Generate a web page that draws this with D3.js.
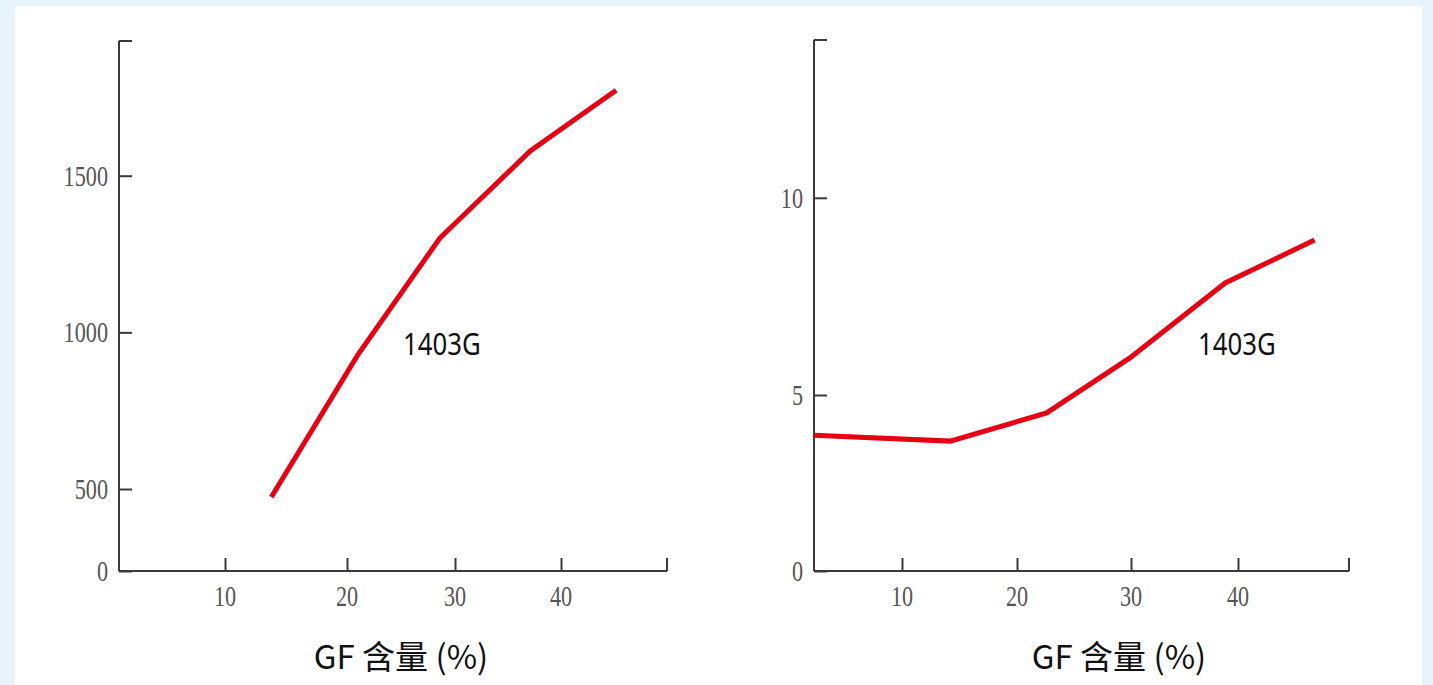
<!DOCTYPE html>
<html>
<head>
<meta charset="utf-8">
<script src="https://cdn.jsdelivr.net/npm/d3@7"></script>
<style>
  html, body { margin: 0; padding: 0; background: #e8f4fc; }
  svg { display: block; }
</style>
</head>
<body>
<svg id="chart" width="1433" height="685"></svg>
<script>
// GF content (%) ticks shared by both panels
const xTicks = [10, 20, 30, 40];
const xTitle = "GF 含量 (%)";
const seriesName = "1403G";

// Left panel: strength vs GF content
const leftGF = [13.8, 21.0, 28.6, 37.1, 45.2];
const leftValues = [451, 928, 1301, 1579, 1773];
const leftYTicks = [0, 500, 1000, 1500];

// Right panel: second property vs GF content
const rightGF = [2, 14.2, 22.6, 29.9, 38.8, 46.9];
const rightValues = [3.86, 3.69, 4.49, 5.94, 7.84, 8.93];
const rightYTicks = [0, 5, 10];

const svg = d3.select("#chart");

// white card
svg.append("rect").attr("x", 15).attr("y", 6).attr("width", 1407).attr("height", 679).attr("fill", "#ffffff");

// condensed text helper: horizontal squeeze around the anchor point
function squeeze(ax, k) {
  return `translate(${ax},0) scale(${k},1) translate(${-ax},0)`;
}

function panel(cfg) {
  const g = svg.append("g");
  const x = d3.scaleLinear().domain(cfg.xDomain).range(cfg.xRange);
  const y = d3.scaleLinear().domain(cfg.yDomain).range(cfg.yRange);
  const x0 = cfg.xRange[0], x1 = cfg.xRange[cfg.xRange.length - 1];
  const y0 = cfg.yRange[0], y1 = cfg.yRange[cfg.yRange.length - 1];
  const axisColor = "#3a3a3a";
  const tickFont = "Liberation Serif, serif";

  // y axis with inward ticks
  const yAxis = d3.axisRight(y).tickValues(cfg.yTicks).tickSize(13).tickFormat("");
  const ya = g.append("g").attr("transform", `translate(${x0},0)`).call(yAxis);
  ya.select(".domain").remove();
  ya.selectAll("line").attr("stroke", axisColor).attr("stroke-width", 2);
  g.append("line").attr("x1", x0).attr("x2", x0).attr("y1", y1).attr("y2", y0)
    .attr("stroke", axisColor).attr("stroke-width", 2);
  g.append("line").attr("x1", x0).attr("x2", x0 + 13).attr("y1", y1).attr("y2", y1)
    .attr("stroke", axisColor).attr("stroke-width", 2);
  g.selectAll(".ylab").data(cfg.yTicks).join("text")
    .attr("x", x0 - 11).attr("y", d => y(d) + 10)
    .attr("text-anchor", "end")
    .attr("font-family", tickFont).attr("font-size", 30)
    .attr("fill", "#555")
    .attr("transform", squeeze(x0 - 11, 0.74))
    .text(d => d);

  // x axis with upward ticks
  const xAxis = d3.axisTop(x).tickValues(xTicks).tickSize(13).tickFormat("");
  const xa = g.append("g").attr("transform", `translate(0,${y0})`).call(xAxis);
  xa.select(".domain").remove();
  xa.selectAll("line").attr("stroke", axisColor).attr("stroke-width", 2);
  g.append("line").attr("x1", x0).attr("x2", x1).attr("y1", y0).attr("y2", y0)
    .attr("stroke", axisColor).attr("stroke-width", 2);
  g.append("line").attr("x1", x1).attr("x2", x1).attr("y1", y0).attr("y2", y0 - 13)
    .attr("stroke", axisColor).attr("stroke-width", 2);
  g.selectAll(".xlab").data(xTicks).join("text")
    .attr("x", d => x(d)).attr("y", y0 + 35)
    .attr("text-anchor", "middle")
    .attr("font-family", tickFont).attr("font-size", 30)
    .attr("fill", "#555")
    .attr("transform", d => squeeze(x(d), 0.74))
    .text(d => d);

  // series line
  const pts = cfg.gf.map((v, i) => [v, cfg.values[i]]);
  g.append("path").datum(pts)
    .attr("fill", "none").attr("stroke", "#e60012").attr("stroke-width", 5)
    .attr("d", d3.line().x(d => x(d[0])).y(d => y(d[1])));

  // series label
  g.append("text").attr("x", cfg.labelPos[0]).attr("y", cfg.labelPos[1])
    .attr("text-anchor", "middle")
    .attr("font-family", "Noto Sans, sans-serif").attr("font-size", 30)
    .attr("fill", "#111")
    .attr("transform", squeeze(cfg.labelPos[0], 0.86))
    .text(seriesName);

  // x title
  g.append("text").attr("x", cfg.titleX).attr("y", 669)
    .attr("text-anchor", "middle")
    .attr("font-family", "Noto Sans CJK SC, sans-serif").attr("font-size", 33)
    .attr("fill", "#111")
    .text(xTitle);
}

panel({
  xDomain: [0, 10, 20, 30, 40, 50], xRange: [119, 225, 347, 455, 561, 667],
  yDomain: [0, 500, 1930], yRange: [571, 489, 41],
  yTicks: leftYTicks, gf: leftGF, values: leftValues,
  labelPos: [442, 355], titleX: 401
});

panel({
  xDomain: [2, 10, 20, 30, 40, 50], xRange: [814, 902, 1017, 1131, 1238, 1349],
  yDomain: [0, 5, 14], yRange: [571, 395, 40],
  yTicks: rightYTicks, gf: rightGF, values: rightValues,
  labelPos: [1237, 355], titleX: 1119
});
</script>
</body>
</html>
